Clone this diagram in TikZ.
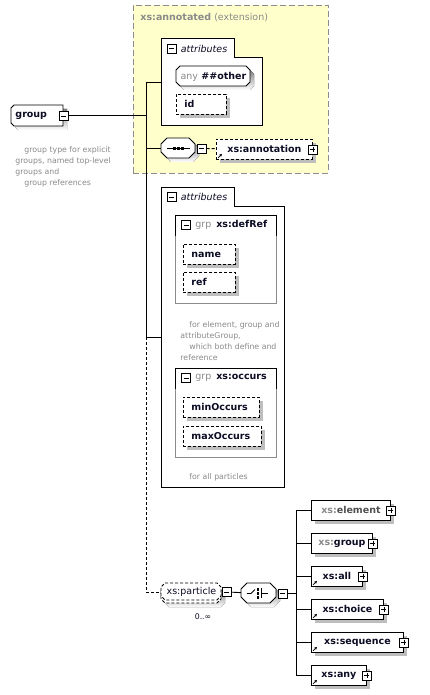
\documentclass[tikz,border=0pt]{standalone}
\usepackage{fontspec}
\setmainfont{DejaVu Sans}
\usetikzlibrary{positioning,shadows,arrows.meta}

\definecolor{annofill}{HTML}{FFFFCC}
\definecolor{annoedge}{HTML}{8C8C8C}
\definecolor{shade}{HTML}{BEBEBE}
\definecolor{dimtext}{HTML}{8A8A8A}
\definecolor{midtext}{HTML}{505050}
\definecolor{ink}{HTML}{0C0C24}
\definecolor{grpedge}{HTML}{8C8C8C}

\newcommand\xsdlabel{\fontsize{9.5}{11}\selectfont}
\newcommand\xsdnote{\fontsize{7.8}{11}\selectfont}
\newcommand\xsdpre[1]{\textcolor{dimtext}{#1}}
% chamfered outline: {x}{y}{w}{h}{chamfer}
\newcommand\chamfershadow[5]{%
  \fill[shade, shift={(#1+4,#2+4)}] (#5,0) -- (#3-#5,0) -- (#3,#5) -- (#3,#4-#5)
    -- (#3-#5,#4) -- (#5,#4) -- (0,#4-#5) -- (0,#5) -- cycle;}
\newcommand\chamferoutline[6][]{%
  \draw[fill=white, shift={(#2,#3)}, #1] (#6,0) -- (#4-#6,0) -- (#4,#6) -- (#4,#5-#6)
    -- (#4-#6,#5) -- (#6,#5) -- (0,#5-#6) -- (0,#6) -- cycle;}

\begin{document}
\begin{tikzpicture}[x=1pt, y=-1pt, line width=0.9pt,
  every node/.style={inner sep=0pt, font=\xsdlabel, text=ink},
  shadowed/.style={drop shadow={shadow xshift=4pt, shadow yshift=-4pt, fill=shade, opacity=1}},
  optional/.style={dash pattern=on 3pt off 2pt},
  elem/.style={rectangle, draw, fill=white, shadowed, anchor=north west,
    minimum height=20, font=\xsdlabel\bfseries},
  attr/.style={elem, optional, align=left, inner xsep=8pt},
  plain/.style={rectangle, anchor=north west, minimum height=20, font=\xsdlabel\bfseries},
  toggle/.style={rectangle, draw, fill=white, minimum size=9, line width=0.8pt},
  collapse/.style={toggle, path picture={
    \draw ([xshift=2pt]path picture bounding box.west) -- ([xshift=-2pt]path picture bounding box.east);}},
  expand/.style={toggle, path picture={
    \draw ([xshift=2pt]path picture bounding box.west) -- ([xshift=-2pt]path picture bounding box.east);
    \draw ([yshift=-2pt]path picture bounding box.north) -- ([yshift=2pt]path picture bounding box.south);}},
  tabtitle/.style={font=\xsdlabel\itshape, anchor=west},
  grptitle/.style={anchor=west},
  note/.style={font=\xsdnote, text=dimtext, align=left, anchor=north west},
  refmark/.style={-{Stealth[length=3pt,width=3pt]}, line width=0.7pt}]

  \useasboundingbox (0,0) rectangle (430,695);
  \fill[white] (0,0) rectangle (430,695);

  % extension frame
  \node[draw=annoedge, fill=annofill, dash pattern=on 6pt off 3pt, anchor=north west,
    minimum width=195, minimum height=168] (ext) at (133,5) {};
  \node[anchor=base west, text=dimtext] (exttitle) at (140,21) {\textbf{xs:annotated} (extension)};

  % first attributes box
  \draw[fill=white] (161,125) |- (234,38) |- (262,57) -- (262,125) -- cycle;
  \node[collapse] (attrtogA) at (171.5,48.5) {};
  \node[tabtitle, right=4pt of attrtogA] (attrtitleA) {attributes};
  \chamfershadow{176}{66}{74}{20}{4}
  \chamferoutline{176}{66}{74}{20}{4}
  \node[plain, minimum width=74] (anyother) at (176,66) {\xsdpre{\mdseries any} \#\#other};
  \node[attr, text width=34] (id) at (176,94) {id};

  % root
  \fill[shade] (15,109) -- (67,109) -- (67,130) -- (18,130) -- (15,127) -- cycle;
  \draw[fill=white] (14,105) -- (63,105) -- (63,126) -- (14,126) -- (11,123) -- (11,108) -- cycle;
  \node[plain, minimum height=21, text width=44, align=left, inner xsep=4pt] (group) at (11,105) {group};
  \node[collapse] (grouptog) at (group.east) {};
  \node[note] (groupnote) at (15,146) {\hspace*{9pt}group type for explicit\\groups, named top-level\\groups and\\\hspace*{9pt}group references};

  % sequence with annotation
  \chamfershadow{161}{138}{34}{20}{6}
  \chamferoutline{161}{138}{34}{20}{6}
  \node[plain, minimum width=34] (seq) at (161,138) {};
  \draw ([xshift=6pt]seq.west) -- ([xshift=-6pt]seq.east);
  \fill ([xshift=-4pt]seq.center) +(-1.5,-1.5) rectangle +(1.5,1.5);
  \fill (seq.center) +(-1.5,-1.5) rectangle +(1.5,1.5);
  \fill ([xshift=4pt]seq.center) +(-1.5,-1.5) rectangle +(1.5,1.5);
  \node[collapse, right=1pt of seq] (seqtog) {};
  \node[elem, optional, minimum width=96] (annot) at (216,139) {xs:annotation};
  \node[expand] (annottog) at (annot.east) {};

  % second attributes box
  \draw[fill=white] (161,487) |- (234,187) |- (284,206) -- (284,487) -- cycle;
  \node[collapse] (attrtogB) at (171.5,197) {};
  \node[tabtitle, right=4pt of attrtogB] (attrtitleB) {attributes};

  % group xs:defRef
  \draw[grpedge] (175,236) |- (276,303) -- (276,236);
  \draw (175,236) |- (276,215) -- (276,236);
  \node[collapse] (deftog) at (186,225) {};
  \node[grptitle, right=4pt of deftog] (deftitle) {\xsdpre{grp}\hspace{5pt}\textbf{xs:defRef}};
  \node[attr, text width=36] (name) at (183,244) {name};
  \node[attr, text width=36] (ref) at (183,272) {ref};
  \node[note] (defnote) at (180,321) {\hspace*{9pt}for element, group and\\attributeGroup,\\\hspace*{9pt}which both define and\\reference};

  % group xs:occurs
  \draw[grpedge] (175,389) |- (276,457) -- (276,389);
  \draw (175,389) |- (276,368) -- (276,389);
  \node[collapse] (occtog) at (186,378) {};
  \node[grptitle, right=4pt of occtog] (occtitle) {\xsdpre{grp}\hspace{5pt}\textbf{xs:occurs}};
  \node[attr, text width=60] (minocc) at (183,397) {minOccurs};
  \node[attr, text width=62] (maxocc) at (183,426) {maxOccurs};
  \node[note] (occnote) at (189,473) {for all particles};

  % particle and choice
  \chamfershadow{161}{586}{60}{17}{4}
  \chamferoutline[optional]{161}{586}{60}{17}{4}
  \chamferoutline[optional]{161}{583}{60}{17}{4}
  \node[plain, minimum width=60, minimum height=17, font=\xsdlabel] (particle) at (161,583) {xs:particle};
  \node[collapse, right=0pt of particle] (parttog) {};
  \node[font=\xsdnote] (partcount) at (203,617) {0..∞};
  \chamfershadow{241}{583}{35}{20}{6}
  \chamferoutline{241}{583}{35}{20}{6}
  \node[plain, minimum width=35] (choice) at (241,583) {};
  \draw ([xshift=-12pt]choice.center) -- ++(4,0) -- ++(4,-4);
  \draw ([shift={(2,-5)}]choice.center) -- ++(0,10);
  \draw ([shift={(2,0)}]choice.center) -- ++(7,0);
  \fill ([shift={(-1,-4)}]choice.center) +(-1.3,-1.3) rectangle +(1.3,1.3);
  \fill ([shift={(-1,0)}]choice.center) +(-1.3,-1.3) rectangle +(1.3,1.3);
  \fill ([shift={(-1,4)}]choice.center) +(-1.3,-1.3) rectangle +(1.3,1.3);
  \node[collapse, right=1pt of choice] (choicetog) {};

  % choice members
  \node[elem, minimum width=79] (celem) at (311,500) {\xsdpre{xs:}\textcolor{midtext}{element}};
  \node[expand] (celemtog) at (celem.east) {};
  \node[elem, minimum width=61] (cgroup) at (311,533) {\xsdpre{xs:}group};
  \node[expand] (cgrouptog) at (cgroup.east) {};
  \node[elem, minimum width=51] (call) at (311,566) {xs:all};
  \node[expand] (calltog) at (call.east) {};
  \node[elem, minimum width=72] (cchoice) at (311,599) {xs:choice};
  \node[expand] (cchoicetog) at (cchoice.east) {};
  \node[elem, minimum width=92] (cseq) at (311,632) {xs:sequence};
  \node[expand] (cseqtog) at (cseq.east) {};
  \node[elem, minimum width=55] (cany) at (311,665) {xs:any};
  \node[expand] (canytog) at (cany.east) {};

  % reference marks
  \draw[refmark] ([shift={(2,-2)}]annot.south west) -- +(4,-4);
  \draw[refmark] ([shift={(2,-2)}]call.south west) -- +(4,-4);
  \draw[refmark] ([shift={(2,-2)}]cchoice.south west) -- +(4,-4);
  \draw[refmark] ([shift={(2,-2)}]cseq.south west) -- +(4,-4);
  \draw[refmark] ([shift={(2,-2)}]cany.south west) -- +(4,-4);

  % connectors
  \coordinate (jA) at (146,82);
  \coordinate (jC) at (146,337);
  \coordinate (attrinA) at (161,82);
  \coordinate (attrinB) at (161,337);
  \coordinate (jE) at (296,593);
  \draw (grouptog) -- (grouptog -| jA);
  \draw (jA) -- (jC);
  \draw (jA) -- (attrinA);
  \draw (jA |- seq) -- (seq);
  \draw (jC) -- (attrinB);
  \draw[optional] (jC) -- (jC |- particle) -- (particle);
  \draw[optional] (seqtog) -- (annot);
  \draw (parttog) -- (choice);
  \draw (choicetog) -- (choicetog -| jE);
  \draw (celem.west -| jE) -- (cany.west -| jE);
  \draw (celem.west -| jE) -- (celem);
  \draw (cgroup.west -| jE) -- (cgroup);
  \draw (call.west -| jE) -- (call);
  \draw (cchoice.west -| jE) -- (cchoice);
  \draw (cseq.west -| jE) -- (cseq);
  \draw (cany.west -| jE) -- (cany);
\end{tikzpicture}
\end{document}
